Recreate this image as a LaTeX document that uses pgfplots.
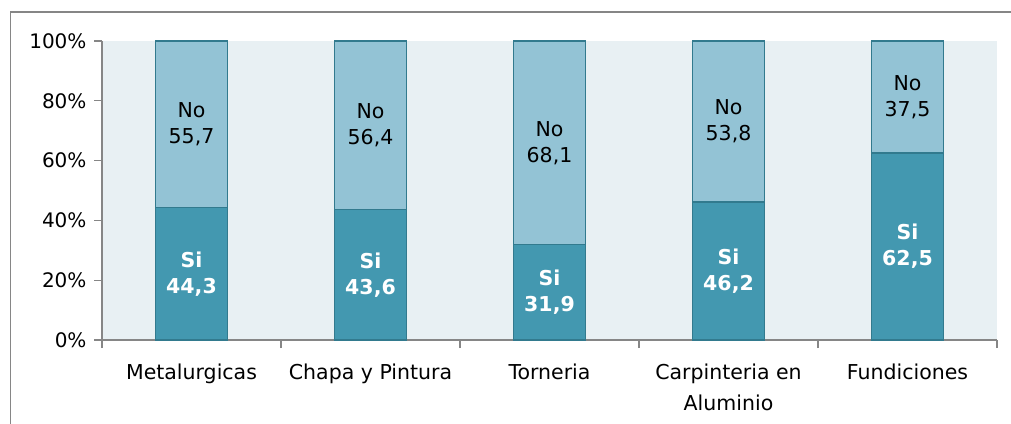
\documentclass[border=0pt]{standalone}
\usepackage{fontspec}
\setmainfont{DejaVu Sans}
\usepackage{pgfplots}
\usepackage{pgfplotstable}
\pgfplotsset{compat=1.18}
\definecolor{bgblue}{RGB}{232,240,243}
\definecolor{sibar}{RGB}{67,152,176}
\definecolor{nobar}{RGB}{147,195,213}
\definecolor{baredge}{RGB}{50,122,142}
\definecolor{axgray}{RGB}{134,134,134}

\pgfplotstableread{
x si no
0 44.3 55.7
1 43.6 56.4
2 31.9 68.1
3 46.2 53.8
4 62.5 37.5
}\datatable

\begin{document}
\begin{tikzpicture}[x=1bp,y=1bp]
\useasboundingbox (0,0) rectangle (1011,423);
\draw[axgray, line width=1.5bp] (10.5,-5) -- (10.5,411.2) -- (1020,411.2);
\begin{axis}[
  at={(102bp,83bp)}, anchor=south west,
  scale only axis, width=895bp, height=299bp,
  ybar stacked, bar width=72bp,
  xmin=-0.5, xmax=4.5, ymin=0, ymax=100,
  clip=false,
  axis lines*=left,
  axis line style={axgray, line width=1.2bp},
  axis background/.style={fill=bgblue},
  tick align=outside,
  major tick length=8bp, minor tick length=8bp,
  tick style={axgray, line width=1.2bp},
  xtick={0,...,4},
  major x tick style={draw=none},
  minor xtick={-0.5,0.5,...,4.5},
  xticklabels={Metalurgicas, Chapa y Pintura, Torneria, {Carpinteria en\\[3bp]Aluminio}, Fundiciones},
  x tick label style={align=center, font=\fontsize{20.5bp}{28bp}\selectfont, yshift=-12bp},
  ytick={0,20,...,100},
  yticklabel={\pgfmathprintnumber{\tick}\%},
  y tick label style={font=\fontsize{20bp}{24bp}\selectfont, xshift=-4bp},
  /pgf/number format/assume math mode=true,
]
\addplot[fill=sibar, draw=baredge, line width=1.6bp,
  point meta=\thisrow{si},
  nodes near coords={\textbf{Si}\\\textbf{\pgfmathprintnumber[fixed,fixed zerofill,precision=1,use comma,assume math mode=true]{\pgfplotspointmeta}}},
  every node near coord/.append style={anchor=center, align=center, text=white,
    font=\fontsize{20.5bp}{26bp}\selectfont}]
  table[x=x,y=si]{\datatable};
\addplot[fill=nobar, draw=baredge, line width=1.6bp,
  point meta=\thisrow{no},
  nodes near coords={No\\\pgfmathprintnumber[fixed,fixed zerofill,precision=1,use comma,assume math mode=true]{\pgfplotspointmeta}},
  every node near coord/.append style={anchor=center, align=center, text=black,
    font=\fontsize{20.5bp}{26bp}\selectfont}]
  table[x=x,y=no]{\datatable};
\end{axis}
\end{tikzpicture}
\end{document}
